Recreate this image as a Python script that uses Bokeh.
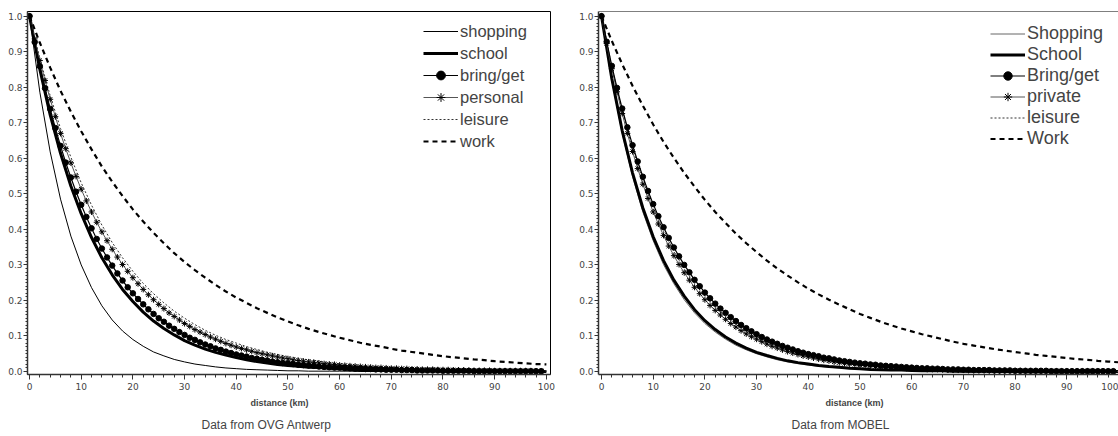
from bokeh.plotting import figure
from bokeh.models import (Range1d, FixedTicker, Legend, LegendItem, Title, Span,
                          PrintfTickFormatter)
from bokeh.layouts import row
from bokeh.embed import file_html
from bokeh.resources import INLINE

# ---------------- data ----------------
DIST_KM = list(range(0, 100))          # 1-km steps (series drawn with markers)
DIST_KM_2 = list(range(0, 101, 2))     # 2-km steps (plain line series)

X_TICKS = [0, 10, 20, 30, 40, 50, 60, 70, 80, 90, 100]
Y_TICKS = [0.0, 0.1, 0.2, 0.3, 0.4, 0.5, 0.6, 0.7, 0.8, 0.9, 1.0]

# Data from OVG Antwerp
ovg_labels = ["shopping", "school", "bring/get", "personal", "leisure", "work"]
ovg_shopping = [1.000, 0.786, 0.618, 0.485, 0.381, 0.300, 0.236, 0.185, 0.145, 0.114,
                0.090, 0.071, 0.055, 0.044, 0.034, 0.027, 0.021, 0.017, 0.013, 0.010,
                0.008, 0.006, 0.005, 0.004, 0.003, 0.002, 0.002, 0.001, 0.001, 0.001,
                0.001, 0.001, 0.000, 0.000, 0.000, 0.000, 0.000, 0.000, 0.000, 0.000,
                0.000, 0.000, 0.000, 0.000, 0.000, 0.000, 0.000, 0.000, 0.000, 0.000,
                0.000]
ovg_school = [1.000, 0.850, 0.722, 0.614, 0.522, 0.444, 0.377, 0.320, 0.272, 0.231,
              0.197, 0.167, 0.142, 0.121, 0.103, 0.087, 0.074, 0.063, 0.054, 0.046,
              0.039, 0.033, 0.028, 0.024, 0.020, 0.017, 0.015, 0.012, 0.011, 0.009,
              0.008, 0.006, 0.006, 0.005, 0.004, 0.003, 0.003, 0.002, 0.002, 0.002,
              0.001, 0.001, 0.001, 0.001, 0.001, 0.001, 0.001, 0.000, 0.000, 0.000,
              0.000]
ovg_bring_get = [1.000, 0.927, 0.859, 0.797, 0.739, 0.685, 0.635, 0.588, 0.546, 0.506,
                 0.469, 0.435, 0.403, 0.373, 0.346, 0.321, 0.298, 0.276, 0.256, 0.237,
                 0.220, 0.204, 0.189, 0.175, 0.162, 0.150, 0.140, 0.129, 0.120, 0.111,
                 0.103, 0.095, 0.089, 0.082, 0.076, 0.071, 0.065, 0.061, 0.056, 0.052,
                 0.048, 0.045, 0.042, 0.038, 0.036, 0.033, 0.031, 0.028, 0.026, 0.024,
                 0.023, 0.021, 0.019, 0.018, 0.017, 0.016, 0.014, 0.013, 0.012, 0.011,
                 0.011, 0.010, 0.009, 0.008, 0.008, 0.007, 0.007, 0.006, 0.006, 0.005,
                 0.005, 0.005, 0.004, 0.004, 0.004, 0.003, 0.003, 0.003, 0.003, 0.003,
                 0.002, 0.002, 0.002, 0.002, 0.002, 0.002, 0.001, 0.001, 0.001, 0.001,
                 0.001, 0.001, 0.001, 0.001, 0.001, 0.001, 0.001, 0.001, 0.001, 0.001]
ovg_personal = [1.000, 0.936, 0.875, 0.819, 0.766, 0.717, 0.670, 0.627, 0.587, 0.549,
                0.513, 0.480, 0.449, 0.420, 0.393, 0.368, 0.344, 0.322, 0.301, 0.282,
                0.264, 0.247, 0.231, 0.216, 0.202, 0.189, 0.177, 0.165, 0.155, 0.145,
                0.135, 0.127, 0.118, 0.111, 0.104, 0.097, 0.091, 0.085, 0.079, 0.074,
                0.069, 0.065, 0.061, 0.057, 0.053, 0.050, 0.047, 0.044, 0.041, 0.038,
                0.036, 0.033, 0.031, 0.029, 0.027, 0.026, 0.024, 0.022, 0.021, 0.020,
                0.018, 0.017, 0.016, 0.015, 0.014, 0.013, 0.012, 0.011, 0.011, 0.010,
                0.009, 0.009, 0.008, 0.008, 0.007, 0.007, 0.006, 0.006, 0.006, 0.005,
                0.005, 0.005, 0.004, 0.004, 0.004, 0.003, 0.003, 0.003, 0.003, 0.003,
                0.002, 0.002, 0.002, 0.002, 0.002, 0.002, 0.002, 0.002, 0.001, 0.001]
ovg_leisure = [1.000, 0.881, 0.776, 0.684, 0.603, 0.531, 0.468, 0.412, 0.363, 0.320,
               0.282, 0.248, 0.219, 0.193, 0.170, 0.150, 0.132, 0.116, 0.102, 0.090,
               0.080, 0.070, 0.062, 0.054, 0.048, 0.042, 0.037, 0.033, 0.029, 0.025,
               0.022, 0.020, 0.017, 0.015, 0.014, 0.012, 0.010, 0.009, 0.008, 0.007,
               0.006, 0.006, 0.005, 0.004, 0.004, 0.003, 0.003, 0.003, 0.002, 0.002,
               0.002]
ovg_work = [1.000, 0.925, 0.855, 0.790, 0.731, 0.676, 0.625, 0.577, 0.534, 0.494,
            0.456, 0.422, 0.390, 0.361, 0.333, 0.308, 0.285, 0.264, 0.244, 0.225,
            0.208, 0.193, 0.178, 0.165, 0.152, 0.141, 0.130, 0.120, 0.111, 0.103,
            0.095, 0.088, 0.081, 0.075, 0.070, 0.064, 0.059, 0.055, 0.051, 0.047,
            0.043, 0.040, 0.037, 0.034, 0.032, 0.029, 0.027, 0.025, 0.023, 0.021,
            0.020]

# Data from MOBEL
mobel_labels = ["Shopping", "School", "Bring/get", "private", "leisure", "Work"]
mobel_shopping = [1.000, 0.819, 0.670, 0.549, 0.449, 0.368, 0.301, 0.247, 0.202, 0.165,
                  0.135, 0.111, 0.091, 0.074, 0.061, 0.050, 0.041, 0.033, 0.027, 0.022,
                  0.018, 0.015, 0.012, 0.010, 0.008, 0.007, 0.006, 0.005, 0.004, 0.003,
                  0.002, 0.002, 0.002, 0.001, 0.001, 0.001, 0.001, 0.001, 0.000, 0.000,
                  0.000, 0.000, 0.000, 0.000, 0.000, 0.000, 0.000, 0.000, 0.000, 0.000,
                  0.000]
mobel_school = [1.000, 0.824, 0.678, 0.559, 0.460, 0.379, 0.312, 0.257, 0.212, 0.174,
                0.143, 0.118, 0.097, 0.080, 0.066, 0.054, 0.045, 0.037, 0.030, 0.025,
                0.021, 0.017, 0.014, 0.012, 0.009, 0.008, 0.006, 0.005, 0.004, 0.004,
                0.003, 0.002, 0.002, 0.002, 0.001, 0.001, 0.001, 0.001, 0.001, 0.000,
                0.000, 0.000, 0.000, 0.000, 0.000, 0.000, 0.000, 0.000, 0.000, 0.000,
                0.000]
mobel_bring_get = [1.000, 0.928, 0.860, 0.798, 0.740, 0.687, 0.637, 0.591, 0.548, 0.508,
                   0.471, 0.437, 0.406, 0.376, 0.349, 0.324, 0.300, 0.279, 0.258, 0.240,
                   0.222, 0.206, 0.191, 0.177, 0.165, 0.153, 0.142, 0.131, 0.122, 0.113,
                   0.105, 0.097, 0.090, 0.084, 0.078, 0.072, 0.067, 0.062, 0.057, 0.053,
                   0.049, 0.046, 0.043, 0.039, 0.037, 0.034, 0.031, 0.029, 0.027, 0.025,
                   0.023, 0.022, 0.020, 0.019, 0.017, 0.016, 0.015, 0.014, 0.013, 0.012,
                   0.011, 0.010, 0.009, 0.009, 0.008, 0.008, 0.007, 0.006, 0.006, 0.006,
                   0.005, 0.005, 0.004, 0.004, 0.004, 0.004, 0.003, 0.003, 0.003, 0.003,
                   0.002, 0.002, 0.002, 0.002, 0.002, 0.002, 0.002, 0.001, 0.001, 0.001,
                   0.001, 0.001, 0.001, 0.001, 0.001, 0.001, 0.001, 0.001, 0.001, 0.001]
mobel_private = [1.000, 0.923, 0.852, 0.787, 0.726, 0.670, 0.619, 0.571, 0.527, 0.487,
                 0.449, 0.415, 0.383, 0.353, 0.326, 0.301, 0.278, 0.257, 0.237, 0.219,
                 0.202, 0.186, 0.172, 0.159, 0.147, 0.135, 0.125, 0.115, 0.106, 0.098,
                 0.091, 0.084, 0.077, 0.071, 0.066, 0.061, 0.056, 0.052, 0.048, 0.044,
                 0.041, 0.038, 0.035, 0.032, 0.030, 0.027, 0.025, 0.023, 0.021, 0.020,
                 0.018, 0.017, 0.016, 0.014, 0.013, 0.012, 0.011, 0.010, 0.010, 0.009,
                 0.008, 0.008, 0.007, 0.006, 0.006, 0.006, 0.005, 0.005, 0.004, 0.004,
                 0.004, 0.003, 0.003, 0.003, 0.003, 0.002, 0.002, 0.002, 0.002, 0.002,
                 0.002, 0.002, 0.001, 0.001, 0.001, 0.001, 0.001, 0.001, 0.001, 0.001,
                 0.001, 0.001, 0.001, 0.001, 0.001, 0.001, 0.000, 0.000, 0.000, 0.000]
mobel_leisure = [1.000, 0.856, 0.733, 0.628, 0.538, 0.461, 0.394, 0.338, 0.289, 0.248,
                 0.212, 0.182, 0.156, 0.133, 0.114, 0.098, 0.084, 0.072, 0.061, 0.053,
                 0.045, 0.039, 0.033, 0.028, 0.024, 0.021, 0.018, 0.015, 0.013, 0.011,
                 0.010, 0.008, 0.007, 0.006, 0.005, 0.004, 0.004, 0.003, 0.003, 0.002,
                 0.002, 0.002, 0.001, 0.001, 0.001, 0.001, 0.001, 0.001, 0.001, 0.000,
                 0.000]
mobel_work = [1.000, 0.930, 0.865, 0.804, 0.748, 0.695, 0.646, 0.601, 0.559, 0.520,
              0.483, 0.449, 0.418, 0.388, 0.361, 0.336, 0.312, 0.290, 0.270, 0.251,
              0.233, 0.217, 0.202, 0.188, 0.175, 0.162, 0.151, 0.140, 0.130, 0.121,
              0.113, 0.105, 0.098, 0.091, 0.084, 0.078, 0.073, 0.068, 0.063, 0.059,
              0.055, 0.051, 0.047, 0.044, 0.041, 0.038, 0.035, 0.033, 0.030, 0.028,
              0.026]

# ---------------- styling constants ----------------
X_MINOR = list(range(0, 101, 2))
Y_MINOR = [i / 100 for i in range(101)]
Y_START, Y_END = -0.0084, 1.013
FONT = "Liberation Sans"


def build_panel(labels, shopping, school, bring_get, personal, leisure, work,
                caption, width, x_start, x_end, border_left, border_right,
                dist_offset, caption_offset, legend_label_width, legend_font_size,
                legend_row, legend_margin, shopping_color, full_outline):
    p = figure(width=width, height=436, output_backend="svg", toolbar_location=None,
               x_range=Range1d(x_start, x_end), y_range=Range1d(Y_START, Y_END),
               min_border_left=border_left, min_border_right=border_right,
               min_border_top=11, min_border_bottom=61)
    p.xgrid.visible = False
    p.ygrid.visible = False
    if full_outline:
        p.outline_line_color = "black"
        p.outline_line_width = 1
    else:
        p.outline_line_color = None
        p.add_layout(Span(location=Y_END, dimension="width", line_color="black",
                          line_width=1))

    # axes
    p.xaxis.ticker = FixedTicker(ticks=X_TICKS, minor_ticks=X_MINOR)
    p.yaxis.ticker = FixedTicker(ticks=Y_TICKS, minor_ticks=Y_MINOR)
    p.yaxis.formatter = PrintfTickFormatter(format="%.1f")
    for ax in (p.xaxis, p.yaxis):
        ax.axis_line_color = "#333333"
        ax.axis_line_width = 1.5
        ax.major_tick_line_color = "#333333"
        ax.minor_tick_line_color = "#333333"
        ax.major_tick_in = 0
        ax.minor_tick_in = 0
        ax.major_label_text_font = "DejaVu Sans"
        ax.major_label_text_font_size = "9px"
        ax.major_label_text_color = "#444444"
    p.xaxis.major_tick_out = 5
    p.xaxis.minor_tick_out = 3
    p.xaxis.major_label_standoff = 3
    p.yaxis.major_tick_out = 4
    p.yaxis.minor_tick_out = 2
    p.yaxis.major_label_standoff = 1

    # curves
    r_shop = p.line(DIST_KM_2, shopping, line_color=shopping_color, line_width=1)
    r_school = p.line(DIST_KM_2, school, line_color="black", line_width=3)
    r_leis = p.line(DIST_KM_2, leisure, line_color="#333333", line_width=1,
                    line_dash="2 2")
    r_work = p.line(DIST_KM_2, work, line_color="black", line_width=2.2,
                    line_dash="5 4")
    r_pers_l = p.line(DIST_KM, personal, line_color="#555555", line_width=1)
    r_pers_m = p.scatter(DIST_KM, personal, marker="asterisk", size=6,
                         line_color="black", line_width=1)
    r_bring_l = p.line(DIST_KM, bring_get, line_color="black", line_width=1.2)
    r_bring_m = p.scatter(DIST_KM, bring_get, marker="circle", size=5.5,
                          fill_color="black", line_color="black")

    items = [
        LegendItem(label=labels[0], renderers=[r_shop]),
        LegendItem(label=labels[1], renderers=[r_school]),
        LegendItem(label=labels[2], renderers=[r_bring_l, r_bring_m]),
        LegendItem(label=labels[3], renderers=[r_pers_l, r_pers_m]),
        LegendItem(label=labels[4], renderers=[r_leis]),
        LegendItem(label=labels[5], renderers=[r_work]),
    ]
    legend = Legend(items=items, location="top_right", border_line_color=None,
                    background_fill_alpha=0, label_text_font=FONT,
                    label_text_font_size=legend_font_size, glyph_width=35,
                    glyph_height=legend_row, label_height=legend_row,
                    label_width=legend_label_width,
                    label_standoff=2, spacing=0, padding=0, margin=legend_margin)
    p.add_layout(legend)

    p.add_layout(Title(text="distance (km)", align="left", offset=dist_offset,
                       text_font=FONT, text_font_size="9px", text_font_style="bold",
                       standoff=7), "below")
    p.add_layout(Title(text=caption, align="left", offset=caption_offset,
                       text_font=FONT, text_font_size="12px", text_font_style="normal",
                       standoff=9), "below")
    return p


p1 = build_panel(ovg_labels, ovg_shopping, ovg_school, ovg_bring_get, ovg_personal,
                 ovg_leisure, ovg_work, "Data from OVG Antwerp",
                 width=559, x_start=-0.39, x_end=100.8, border_left=27, border_right=9,
                 dist_offset=223, caption_offset=174, legend_label_width=81,
                 legend_font_size="16.5px", legend_row=22, legend_margin=9,
                 shopping_color="black", full_outline=True)
p2 = build_panel(mobel_labels, mobel_shopping, mobel_school, mobel_bring_get,
                 mobel_private, mobel_leisure, mobel_work, "Data from MOBEL",
                 width=559, x_start=-0.58, x_end=100.0, border_left=39, border_right=0,
                 dist_offset=227, caption_offset=193, legend_label_width=79,
                 legend_font_size="18px", legend_row=21, legend_margin=12,
                 shopping_color="#666666", full_outline=False)

layout = row(p1, p2)
open("out.html", "w").write(file_html(layout, INLINE))
